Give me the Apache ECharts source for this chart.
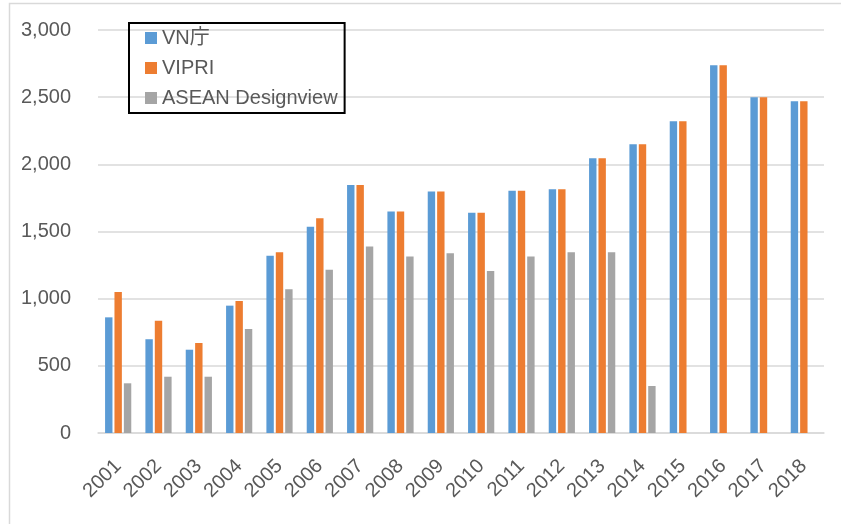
<!DOCTYPE html>
<html>
<head>
<meta charset="utf-8">
<script src="https://cdn.jsdelivr.net/npm/echarts@6/dist/echarts.min.js"></script>
<style>
html,body{margin:0;padding:0;background:#fff;}
#chart{width:841px;height:524px;}
</style>
</head>
<body>
<div id="chart"></div>
<script>
const years = ['2001','2002','2003','2004','2005','2006','2007','2008','2009','2010','2011','2012','2013','2014','2015','2016','2017','2018'];
const seriesNames = ['VN庁', 'VIPRI', 'ASEAN Designview'];
const vnValues = [861, 698, 620, 948, 1320, 1536, 1847, 1648, 1797, 1640, 1804, 1815, 2045, 2150, 2321, 2738, 2500, 2470];
const vipriValues = [1050, 836, 670, 983, 1345, 1598, 1847, 1648, 1797, 1640, 1804, 1815, 2045, 2150, 2321, 2738, 2500, 2470];
const aseanValues = [370, 419, 419, 774, 1070, 1216, 1388, 1313, 1338, 1206, 1313, 1345, 1345, 350, null, null, null, null];
const yTicks = [0, 500, 1000, 1500, 2000, 2500, 3000];

const FONT = '"Liberation Sans", Arial, "Noto Sans CJK JP", sans-serif';
const chart = echarts.init(document.getElementById('chart'), null, {renderer: 'canvas'});
const barStyle = (c) => ({ type: 'bar', barWidth: 7.4, barGap: '27%', itemStyle: { color: c }, emphasis: { disabled: true } });
chart.setOption({
  animation: false,
  backgroundColor: '#ffffff',
  graphic: [{
    type: 'rect', shape: { x: 9.5, y: 3.5, width: 880, height: 600 },
    style: { fill: 'none', stroke: '#d9d9d9', lineWidth: 1.5 }, silent: true, z: 0
  }],
  legend: {
    orient: 'vertical', left: 129, top: 23,
    padding: [5, 7, 5, 16],
    itemWidth: 12, itemHeight: 12, itemGap: 10,
    borderColor: '#000', borderWidth: 2,
    icon: 'rect',
    textStyle: { fontFamily: FONT, fontSize: 20, color: '#595959' },
    data: seriesNames
  },
  grid: { left: 98, right: 17, top: 30, bottom: 91, containLabel: false },
  xAxis: {
    type: 'category', data: years,
    axisLine: { lineStyle: { color: '#d9d9d9', width: 1.5 } },
    axisTick: { show: false },
    axisLabel: { rotate: 45, fontFamily: FONT, fontSize: 20, color: '#595959', margin: 30, interval: 0 }
  },
  yAxis: {
    type: 'value', min: yTicks[0], max: yTicks[yTicks.length - 1], interval: 500,
    axisLine: { show: false }, axisTick: { show: false },
    splitLine: { lineStyle: { color: '#d9d9d9', width: 1.5 } },
    axisLabel: { fontFamily: FONT, fontSize: 20, color: '#595959', margin: 27,
      formatter: v => v.toLocaleString('en-US') }
  },
  series: [
    Object.assign({ name: seriesNames[0], data: vnValues }, barStyle('#5B9BD5')),
    Object.assign({ name: seriesNames[1], data: vipriValues }, barStyle('#ED7D31')),
    Object.assign({ name: seriesNames[2], data: aseanValues }, barStyle('#A5A5A5'))
  ]
});
</script>
</body>
</html>
